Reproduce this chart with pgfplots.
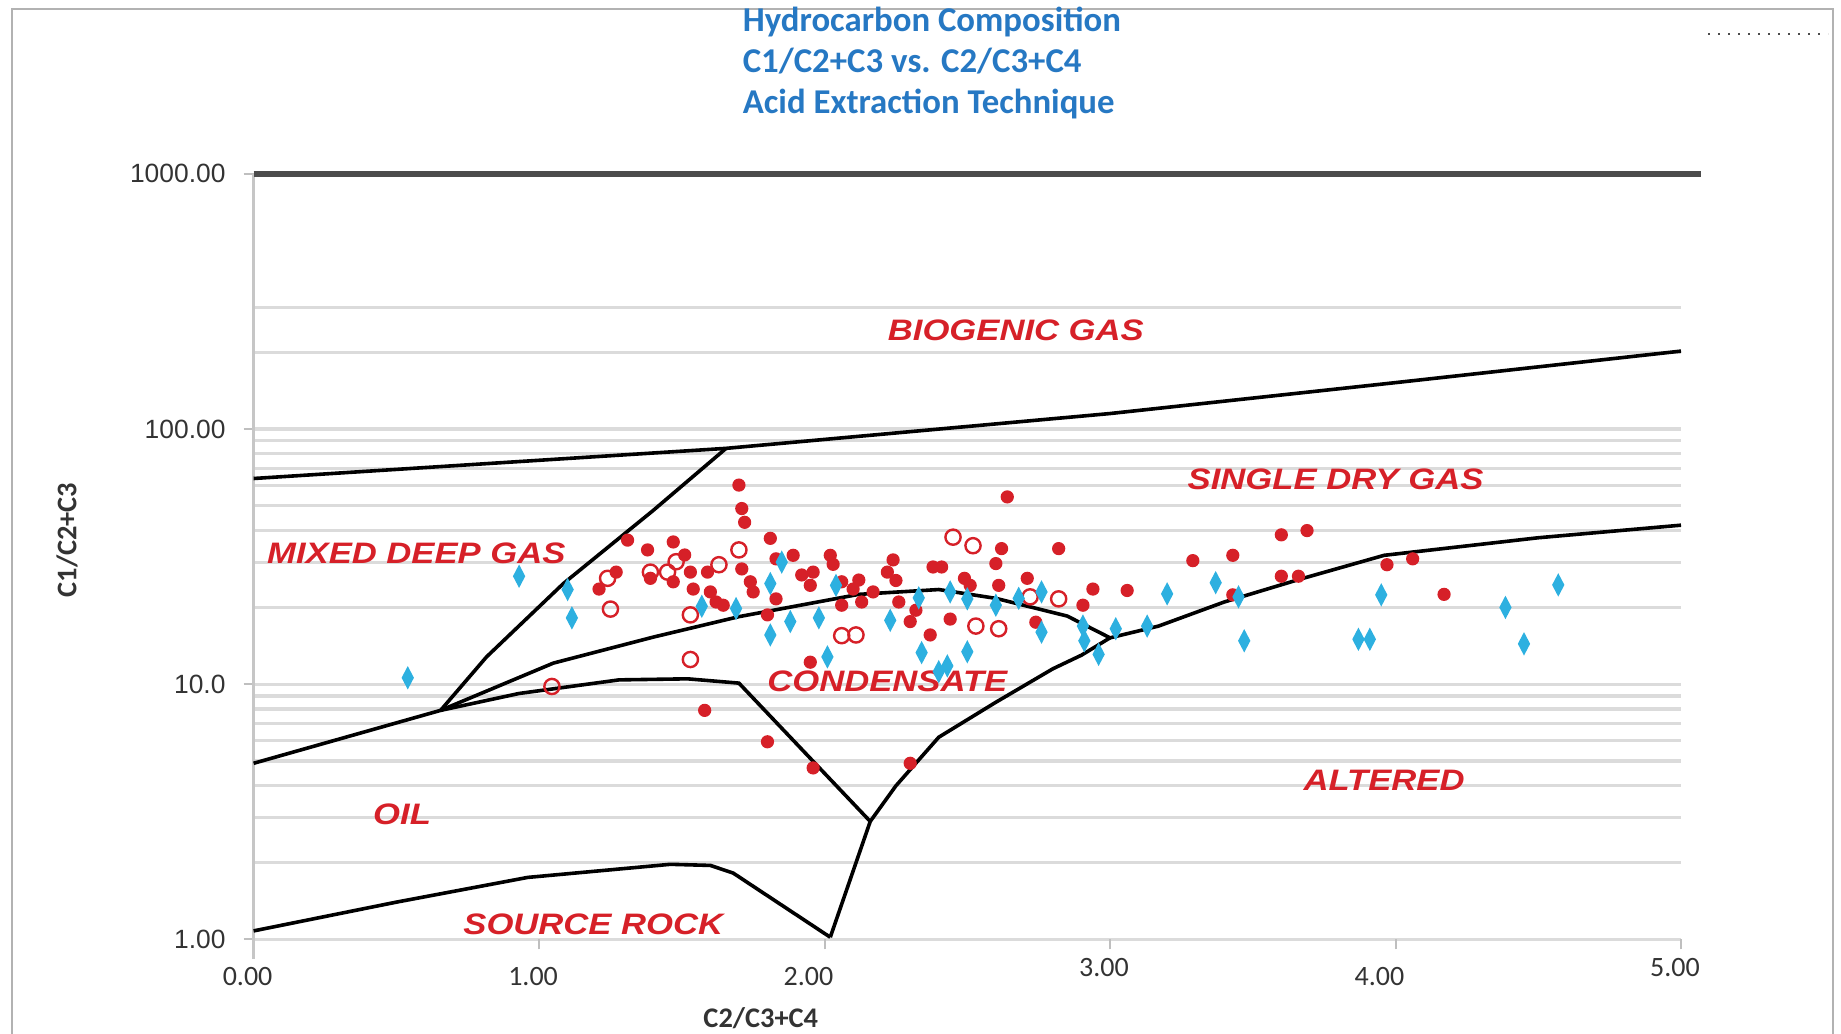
\documentclass[border=0pt]{standalone}
\usepackage{pgfplots}
\pgfplotsset{compat=1.18}
\usepackage{fontspec}
\usepackage{graphicx}
\setmainfont{Liberation Sans}
\newfontfamily\calf{Carlito}
\definecolor{ptred}{RGB}{214,32,40}
\definecolor{ptcyan}{RGB}{45,176,224}
\definecolor{titleblue}{RGB}{38,120,195}
\newcommand{\reg}[1]{\scalebox{1.17}[1]{\bfseries\itshape\fontsize{7.4}{8}\selectfont #1}}
\begin{document}
\begin{tikzpicture}[x=1pt,y=1pt]
\useasboundingbox (0,0) rectangle (460.25,-258.25);
\draw[gray!60, line width=0.6pt] (3,-265) -- (3,-2.25) -- (458.25,-2.25) -- (458.25,-265);
\draw[black!70, dotted, line width=0.5pt] (427,-8.5) -- (457,-8.5);
\node[anchor=north west, align=left, font=\calf\bfseries\fontsize{8.7}{10.3}\selectfont, text=titleblue, inner sep=0pt] at (185.5,-1.5) {Hydrocarbon Composition\\C1/C2+C3 vs. C2/C3+C4\\Acid Extraction Technique};
\node[rotate=90, font=\calf\bfseries\fontsize{7.1}{8}\selectfont, text=black!80] at (16.75,-135) {C1/C2+C3};
\node[font=\calf\bfseries\fontsize{7.1}{8}\selectfont, text=black!80] at (190.2,-254.5) {C2/C3+C4};
\begin{axis}[at={(63.4pt,-43.45pt)}, anchor=north west, scale only axis,
  width=356.85pt, height=191.4pt,
  xmin=0, xmax=5, ymin=1, ymax=1000, ymode=log, clip=false,
  axis line style={draw=none},
  xtick={0,1,2,3,4,5},
  xticklabels={0.00,1.00,\hspace*{-5pt}2.00,\raisebox{2.3pt}[\height][\depth]{3.00},\hspace*{-5pt}4.00,\raisebox{2.3pt}[\height][\depth]{5.00}},
  ytick={1,10,100,1000}, yticklabels={1.00,10.0,100.00,1000.00},
  minor ytick={2,3,4,5,6,7,8,9,20,30,40,50,60,70,80,90,200,300},
  ymajorgrids, yminorgrids,
  major grid style={gray!28, line width=0.8pt},
  minor grid style={gray!28, line width=0.8pt},
  xtick pos=left, ytick pos=left, tick align=outside,
  major tick length=2.5pt, minor tick length=0pt,
  tick style={gray!50, line width=0.5pt},
  xticklabel style={font=\calf\fontsize{7}{8}\selectfont, text=black!80, yshift=-1pt, xshift=-1.5pt},
  yticklabel style={font=\fontsize{6.6}{8}\selectfont, text=black!80, xshift=-1pt},
]
% axis frame lines
\draw[gray!45, line width=0.6pt] (axis cs:0,1000) -- (axis cs:0,0.84);
\draw[black!70, line width=1.5pt] (axis cs:0,1000) -- (axis cs:5.07,1000);
% boundary lines
\addplot[black, line width=0.9pt] coordinates {(0,64) (1.655,84) (3.0,115) (4.0,152) (5,202)};
\addplot[black, line width=0.9pt] coordinates {(0.655,7.9) (0.816,12.8) (1.085,24.8) (1.40,48) (1.655,84)};
\addplot[black, line width=0.9pt] coordinates {(0,4.9) (0.655,7.9) (1.05,12.1) (1.40,15.3) (1.70,18.4) (2.12,22.5) (2.4,23.5) (2.6,21.7) (2.85,18.5) (3.0,15.2) (3.17,16.9) (3.4,21) (3.66,25.7) (3.96,32) (4.5,37.5) (5,42)};
\addplot[black, line width=0.9pt] coordinates {(0.655,7.9) (0.93,9.2) (1.28,10.4) (1.52,10.5) (1.70,10.1) (2.16,2.9)};
\addplot[black, line width=0.9pt] coordinates {(0,1.08) (0.5,1.4) (0.96,1.75) (1.46,1.97) (1.6,1.95) (1.68,1.82) (2.02,1.02)};
\addplot[black, line width=0.9pt] coordinates {(2.02,1.02) (2.16,2.9) (2.25,4.0) (2.4,6.2) (2.6,8.5) (2.8,11.5) (2.9,13) (3.0,15.2)};
% red filled
\addplot[only marks, mark=*, mark size=1.45pt, color=ptred] coordinates {
(1.70,60.3) (1.71,48.8) (1.72,43.1) (2.64,54.2) (3.60,38.5) (3.69,40.0)
(1.31,36.7) (1.38,33.6) (1.47,36.1) (1.51,32.1) (1.47,25.2) (1.53,27.5)
(1.59,27.5) (1.54,23.6) (1.60,23.0) (1.62,21.0) (1.645,20.4) (1.71,28.3)
(1.74,25.2) (1.75,23.0) (1.81,37.3) (1.83,31.0) (1.89,32.0) (1.83,21.6)
(1.80,18.7) (1.92,26.8) (1.95,24.4) (2.02,32.0) (2.03,29.5) (1.96,27.5)
(2.06,25.2) (2.10,23.6) (2.12,25.6) (2.06,20.4) (1.95,12.2) (1.21,23.6)
(1.27,27.5) (1.58,7.9) (1.80,5.95) (1.96,4.7) (2.30,4.9) (2.62,34.0)
(2.82,34.0) (2.24,30.7) (2.38,28.8) (2.41,28.8) (2.60,29.7) (2.22,27.5)
(2.25,25.5) (2.17,23.0) (2.49,26.0) (2.51,24.4) (2.61,24.4) (2.71,26.0)
(2.94,23.6) (3.06,23.3) (3.29,30.5) (2.905,20.4) (2.26,21.0) (2.13,21.0)
(2.30,17.6) (2.32,19.5) (2.44,18.0) (2.37,15.6) (2.74,17.5) (3.43,32.0)
(3.60,26.5) (3.66,26.5) (3.43,22.4) (3.97,29.4) (4.06,31.0) (4.17,22.5)
(1.39,26.0)};
% red open
\addplot[only marks, mark=o, mark size=1.9pt, color=ptred, line width=0.6pt] coordinates {
(1.48,30.2) (1.39,27.5) (1.45,27.5) (1.63,29.4) (1.70,33.6) (2.11,15.6)
(1.53,12.5) (1.24,26.0) (1.25,19.7) (1.53,18.7) (1.045,9.8) (2.45,37.7)
(2.52,34.9) (2.72,22.0) (2.82,21.6) (2.53,16.9) (2.61,16.5) (2.06,15.5)};
% cyan diamonds
\addplot[only marks, mark=diamond*, mark size=2.5pt, color=ptcyan, mark options={xscale=0.7}] coordinates {
(0.54,10.6) (0.93,26.5) (1.10,23.5) (1.115,18.2) (1.57,20.2) (1.69,19.8)
(1.81,24.8) (1.81,15.6) (1.85,30.1) (1.88,17.6) (1.98,18.2) (2.01,12.8)
(2.04,24.4) (2.23,17.8) (2.33,21.8) (2.34,13.3) (2.43,11.8) (2.40,11.2)
(2.44,23.0) (2.50,21.6) (2.50,13.4) (2.60,20.4) (2.68,21.7) (2.76,23.0)
(2.76,16.0) (2.905,16.9) (2.91,14.8) (2.96,13.1) (3.02,16.5) (3.13,16.9)
(3.20,22.6) (3.37,25.0) (3.45,22.0) (3.47,14.8) (3.87,15.0) (3.91,15.0)
(3.95,22.4) (4.385,20.0) (4.45,14.4) (4.57,24.5)};
% region labels
\node[text=ptred, inner sep=0pt] at (axis cs:2.67,244) {\reg{BIOGENIC GAS}};
\node[text=ptred, inner sep=0pt] at (axis cs:3.79,63.3) {\reg{SINGLE DRY GAS}};
\node[text=ptred, inner sep=0pt] at (axis cs:0.57,32.5) {\reg{MIXED DEEP GAS}};
\node[text=ptred, inner sep=0pt] at (axis cs:2.22,10.3) {\reg{CONDENSATE}};
\node[text=ptred, inner sep=0pt] at (axis cs:3.96,4.19) {\reg{ALTERED}};
\node[text=ptred, inner sep=0pt] at (axis cs:0.52,3.08) {\reg{OIL}};
\node[text=ptred, inner sep=0pt] at (axis cs:1.19,1.15) {\reg{SOURCE ROCK}};
\end{axis}
\end{tikzpicture}
\end{document}
